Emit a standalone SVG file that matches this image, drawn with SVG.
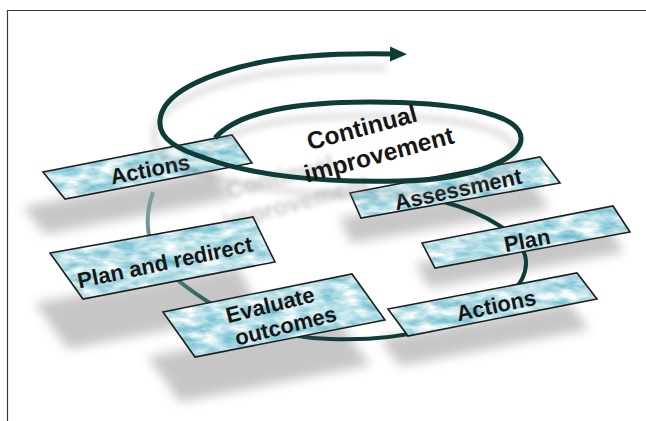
<svg xmlns="http://www.w3.org/2000/svg" width="646" height="421" viewBox="0 0 646 421">
  <defs>
    <style>
      .box{stroke:#1e1e1e;stroke-width:1.6;stroke-linejoin:miter}
      .skin{filter:url(#marble)}
      .lbl{font-family:"Liberation Sans",Arial,sans-serif;font-weight:bold;font-size:22px;fill:#161616;text-anchor:middle}
      .big{font-size:24.5px}
      .shade{fill:#a4a4a4;opacity:.62;filter:url(#soft)}
      .spiral{fill:none;stroke:#0e3c37;stroke-width:5;stroke-linecap:butt}
    </style>
    <filter id="soft" x="-20%" y="-50%" width="140%" height="200%">
      <feGaussianBlur stdDeviation="5.5"/>
    </filter>
    <filter id="haze" x="-20%" y="-50%" width="140%" height="200%">
      <feGaussianBlur stdDeviation="3.5"/>
    </filter>
    <filter id="blurText" x="-20%" y="-50%" width="140%" height="200%">
      <feGaussianBlur stdDeviation="2.4"/>
    </filter>
    <!-- mottled light-cyan paper texture for the label plates -->
    <filter id="marble" x="0" y="0" width="100%" height="100%" color-interpolation-filters="sRGB">
      <feTurbulence type="fractalNoise" baseFrequency="0.05 0.12" numOctaves="4" seed="7" result="n"/>
      <feColorMatrix in="n" type="matrix" values="0.9 0 0 0 0.28  0.42 0 0 0 0.67  0.3 0 0 0 0.76  0 0 0 0 1" result="c"/>
      <feComposite in="c" in2="SourceGraphic" operator="in"/>
    </filter>
    <linearGradient id="ringGrad" gradientUnits="userSpaceOnUse" x1="140" y1="200" x2="340" y2="340">
      <stop offset="0" stop-color="#7fa5a2"/>
      <stop offset="0.45" stop-color="#2f625d"/>
      <stop offset="1" stop-color="#0f3d38"/>
    </linearGradient>
    <marker id="head" markerUnits="userSpaceOnUse" markerWidth="18" markerHeight="16" refX="2" refY="7.5" orient="auto">
      <path d="M0,0 L17,7.5 L0,15 z" fill="#0e3c37"/>
    </marker>
  </defs>

  <rect width="646" height="421" fill="#ffffff"/>
  <path d="M7.5,421 V10.5 H646" fill="none" stroke="#3a3a3a" stroke-width="1.2"/>

  <!-- cast shadows of the plates -->
  <g id="shadows">
    <polygon class="shade" points="23,207 212,170 232,198 45,234"/>
    <polygon class="shade" points="35,303 238,267 260,312 68,349"/>
    <polygon class="shade" points="148,357 337,319 370,365 180,402"/>
    <polygon class="shade" points="380,339 569,303 589,329 400,366"/>
    <polygon class="shade" points="416,263 607,226 624,252 429,288"/>
    <polygon class="shade" points="340,218 530,182 550,208 351,243"/>
  </g>

  <!-- soft shadow of the heading -->
  <g opacity="0.4" filter="url(#blurText)" fill="#777777" font-family="Liberation Sans, Arial, sans-serif" font-weight="bold" font-size="24" text-anchor="middle">
    <text transform="translate(280,178) rotate(-15)" y="7">Continual</text>
    <text transform="translate(296,204) rotate(-15)" y="7">improvement</text>
  </g>

  <!-- connectors -->
  <g id="connectors">
    <path id="ring" d="M153,192 C145,215 142,250 175,278 C215,310 260,337 330,339 C400,342 470,325 510,295 C535,270 530,245 500,226 C480,213 460,206 440,201" fill="none" stroke="url(#ringGrad)" stroke-width="4"/>
  </g>

  <!-- label plates -->
  <g id="node-actions-top">
    <polygon class="skin" points="43,172 232,135 252,163 65,199"/>
    <polygon class="box" fill="none" points="43,172 232,135 252,163 65,199"/>
    <text class="lbl" transform="translate(150,169) rotate(-11)" y="8">Actions</text>
  </g>
  <g id="node-assessment">
    <polygon class="skin" points="350,193 540,157 560,183 361,218"/>
    <polygon class="box" fill="none" points="350,193 540,157 560,183 361,218"/>
    <text class="lbl" transform="translate(458,189) rotate(-12)" y="8">Assessment</text>
  </g>
  <g id="node-plan">
    <polygon class="skin" points="422,243 613,206 630,232 435,268"/>
    <polygon class="box" fill="none" points="422,243 613,206 630,232 435,268"/>
    <text class="lbl" transform="translate(527,240) rotate(-11)" y="8">Plan</text>
  </g>
  <g id="node-plan-redirect">
    <polygon class="skin" points="50,253 253,217 275,262 83,299"/>
    <polygon class="box" fill="none" points="50,253 253,217 275,262 83,299"/>
    <text class="lbl" transform="translate(165,262) rotate(-12)" y="8">Plan and redirect</text>
  </g>
  <g id="node-evaluate">
    <polygon class="skin" points="163,312 352,274 385,320 195,357"/>
    <polygon class="box" fill="none" points="163,312 352,274 385,320 195,357"/>
    <text class="lbl" transform="translate(278,316) rotate(-14)"><tspan x="-5" y="-5">Evaluate</tspan><tspan x="5" y="19">outcomes</tspan></text>
  </g>
  <g id="node-actions-bottom">
    <polygon class="skin" points="388,309 577,273 597,299 408,336"/>
    <polygon class="box" fill="none" points="388,309 577,273 597,299 408,336"/>
    <text class="lbl" transform="translate(496,305) rotate(-12)" y="8">Actions</text>
  </g>

  <!-- improvement spiral -->
  <g id="node-continual">
    <path d="M215,138 C240,110 300,102 370,102 C450,102 520,112 521,138 C522,160 470,180 400,181 C320,183 250,175 205,158 C180,150 158,140 160,120 C162,100 185,82 240,67 C280,56 330,53 392,54" fill="none" stroke="#8a8a8a" stroke-width="5" opacity="0.35" filter="url(#haze)" transform="translate(-6,14)"/>
    <path class="spiral" d="M215,138 C240,110 300,102 370,102 C450,102 520,112 521,138 C522,160 470,180 400,181 C320,183 250,175 205,158 C180,150 158,140 160,120 C162,100 185,82 240,67 C280,56 330,53 392,54" marker-end="url(#head)"/>
    <text class="lbl big" transform="translate(362,128) rotate(-15)" y="8">Continual</text>
    <text class="lbl big" transform="translate(379,155) rotate(-15)" y="8">improvement</text>
  </g>
</svg>
